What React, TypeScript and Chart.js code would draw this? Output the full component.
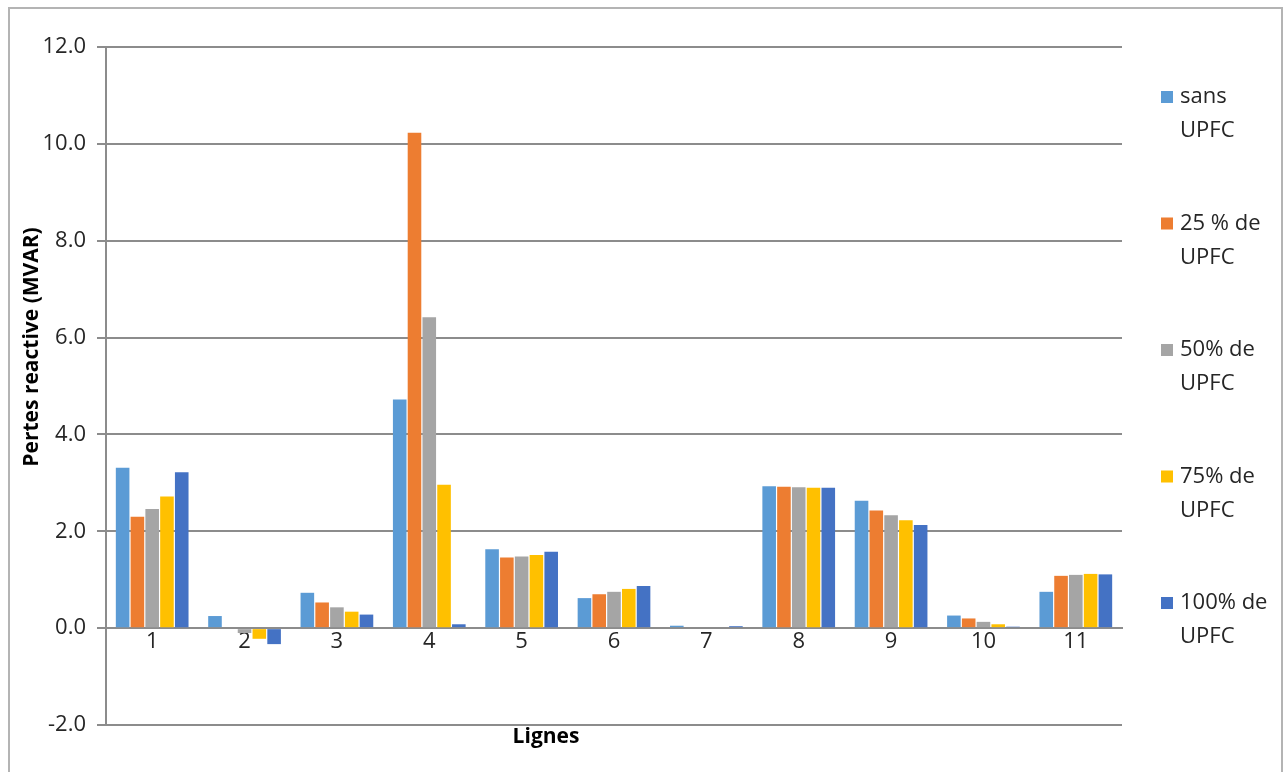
import React, { useEffect, useRef } from "react";
import { Chart, registerables } from "chart.js";

Chart.register(...registerables);

const categories = ["1", "2", "3", "4", "5", "6", "7", "8", "9", "10", "11"];
const seriesLabels = ["sans UPFC", "25 % de UPFC", "50% de UPFC", "75% de UPFC", "100% de UPFC"];
const seriesColors = ["#5B9BD5", "#ED7D31", "#A5A5A5", "#FFC000", "#4472C4"];
const sansUPFC = [3.31, 0.25, 0.73, 4.72, 1.63, 0.62, 0.05, 2.93, 2.63, 0.26, 0.75];
const upfc25 = [2.3, 0, 0.53, 10.23, 1.46, 0.7, 0, 2.92, 2.43, 0.2, 1.08];
const upfc50 = [2.46, -0.1, 0.43, 6.42, 1.48, 0.75, 0, 2.91, 2.33, 0.13, 1.1];
const upfc75 = [2.72, -0.22, 0.34, 2.96, 1.51, 0.81, 0, 2.9, 2.23, 0.08, 1.12];
const upfc100 = [3.22, -0.33, 0.28, 0.08, 1.58, 0.87, 0.04, 2.9, 2.13, 0.03, 1.11];
const yTitle = "Pertes reactive (MVAR)";
const xTitle = "Lignes";

const FONT = "'Open Sans', sans-serif";
const TEXT = "#262626";

const decorPlugin = {
  id: "decor",
  beforeDraw(chart: any) {
    const ctx = chart.ctx;
    ctx.save();
    ctx.strokeStyle = "#b4b4b4";
    ctx.lineWidth = 2;
    ctx.beginPath();
    ctx.moveTo(9, 772);
    ctx.lineTo(9, 8);
    ctx.lineTo(1282, 8);
    ctx.lineTo(1282, 772);
    ctx.stroke();
    ctx.restore();
  },
  afterDraw(chart: any) {
    const ctx = chart.ctx;
    ctx.save();
    // axis titles
    ctx.fillStyle = "#000000";
    ctx.font = `bold 21px ${FONT}`;
    ctx.textAlign = "center";
    ctx.textBaseline = "middle";
    ctx.fillText(xTitle, 546, 737);
    ctx.save();
    ctx.translate(32, 347);
    ctx.rotate(-Math.PI / 2);
    ctx.fillText(yTitle, 0, 0);
    ctx.restore();
    // legend
    ctx.font = `22px ${FONT}`;
    ctx.textAlign = "left";
    chart.data.datasets.forEach((ds: any, i: number) => {
      const y0 = 97 + i * 126.5;
      ctx.fillStyle = ds.backgroundColor;
      ctx.fillRect(1161, y0 - 6, 12, 12);
      const idx = ds.label.lastIndexOf(" ");
      const l1 = ds.label.slice(0, idx);
      const l2 = ds.label.slice(idx + 1);
      ctx.fillStyle = TEXT;
      ctx.fillText(l1, 1180, y0);
      ctx.fillText(l2, 1180, y0 + 34);
    });
    ctx.restore();
  },
};

export default function App() {
  const ref = useRef<HTMLCanvasElement | null>(null);
  useEffect(() => {
    if (!ref.current) return;
    const seriesData = [sansUPFC, upfc25, upfc50, upfc75, upfc100];
    const chart = new Chart(ref.current, {
      type: "bar",
      data: {
        labels: categories,
        datasets: seriesLabels.map((label, i) => ({
          label,
          data: seriesData[i],
          backgroundColor: seriesColors[i],
          borderColor: "#ffffff",
          borderWidth: 0,
          categoryPercentage: 0.8,
          barPercentage: 0.92,
        })),
      },
      options: {
        responsive: false,
        animation: false,
        devicePixelRatio: 1,
        layout: { padding: { left: 0, top: 47, right: 164, bottom: 47 } },
        plugins: { legend: { display: false }, tooltip: { enabled: false } },
        scales: {
          x: {
            position: { y: 0 } as any,
            grid: { display: false, drawTicks: false },
            border: { display: true, color: "#8c8c8c", width: 2 },
            ticks: { font: { family: FONT, size: 22 }, color: TEXT, padding: 0 },
          },
          y: {
            min: -2,
            max: 12,
            afterFit: (scale: any) => {
              scale.width = 106;
            },
            ticks: {
              stepSize: 2,
              font: { family: FONT, size: 22 },
              color: TEXT,
              padding: 11,
              callback: (v: any) => Number(v).toFixed(1),
            },
            grid: { color: "#8c8c8c", lineWidth: 2, tickLength: 9, drawTicks: true },
            border: { display: true, color: "#8c8c8c", width: 2 },
          },
        },
      },
      plugins: [decorPlugin],
    });
    return () => chart.destroy();
  }, []);
  return (
    <div style={{ position: "absolute", left: 0, top: 0, width: 1286, height: 772, background: "#fff" }}>
      <canvas ref={ref} width={1286} height={772} style={{ width: 1286, height: 772, display: "block" }} />
    </div>
  );
}
